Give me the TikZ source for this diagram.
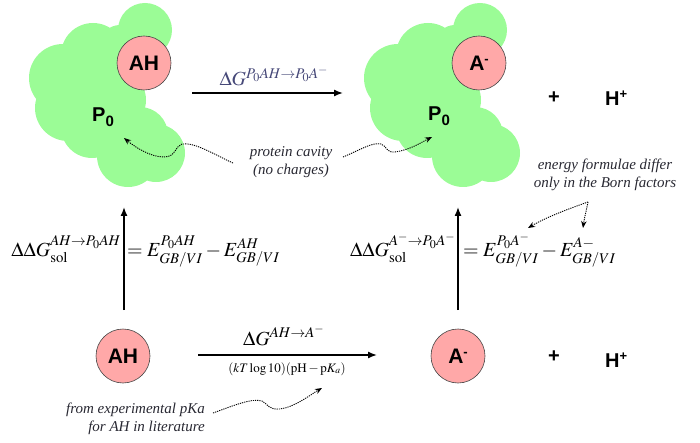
\documentclass[tikz,border=0pt]{standalone}
\usepackage{mathptmx}
\usepackage[no-math]{fontspec}
\setmainfont{Liberation Serif}
\newfontfamily\notefont{Liberation Serif}
\newfontfamily\sansfam{Liberation Sans}
\usetikzlibrary{arrows.meta}
\definecolor{blobgreen}{RGB}{155,252,150}
\definecolor{pinkfill}{RGB}{255,168,168}
\definecolor{circedge}{RGB}{70,70,70}
\definecolor{slate}{RGB}{70,72,120}
\definecolor{notecol}{RGB}{40,40,50}
\newcommand{\myblob}[1]{%
  \begin{scope}[shift={(#1,0)}]
    \foreach \cx/\cy/\r in {145/30/27, 93/55/32, 63/78/34, 68/108/33, 92/127/31,
        128/156/31, 156/153/29, 140/135/28, 115/100/31, 90/95/35, 110/70/30, 120/45/20}
      {\fill[blobgreen] (\cx,\cy) circle[radius=\r pt];}
  \end{scope}}
\begin{document}
\begin{tikzpicture}[x=1pt,y=-1pt,
  pinkc/.style={circle, fill=pinkfill, draw=circedge, line width=0.6pt,
     minimum size=54pt, inner sep=0pt, font=\sansfam\bfseries\fontsize{21}{21}\selectfont},
  chem/.style={font=\sansfam\bfseries\fontsize{20}{20}\selectfont, inner sep=0pt},
  mainarrow/.style={line width=1.4pt, -{Latex[length=9pt,width=7pt]}},
  dotarrow/.style={line width=0.9pt, dash pattern=on 1.2pt off 1pt, -{Stealth[length=7pt,width=5.5pt]}},
  note/.style={font=\notefont\itshape\fontsize{15}{18}\selectfont, text=notecol, inner sep=0pt},
  eq/.style={font=\fontsize{20}{24}\selectfont, inner sep=0pt},
  smalleq/.style={font=\fontsize{13}{15}\selectfont, inner sep=0pt}]
\useasboundingbox (0,0) rectangle (700,443);

% protein blobs
\myblob{0}
\myblob{335}

% top row
\node[pinkc] (ahtop) at (144,63) {AH};
\node[chem, anchor=base west] (p0left) at (92,122) {P\raisebox{-5pt}{\fontsize{15}{15}\selectfont 0}};
\node[pinkc] (atop) at (479,63) {A\raisebox{7pt}{\fontsize{13}{13}\selectfont -}};
\node[chem, anchor=base west] (p0right) at (428,121) {P\raisebox{-5pt}{\fontsize{15}{15}\selectfont 0}};
\node[chem] (plustop) at (554,98) {+};
\node[chem, anchor=base west] (htop) at (605,106) {H\raisebox{7pt}{\fontsize{13}{13}\selectfont +}};

% bottom row
\node[pinkc] (ahbot) at (123,356) {AH};
\node[pinkc] (abot) at (458,356) {A\raisebox{7pt}{\fontsize{13}{13}\selectfont -}};
\node[chem] (plusbot) at (554,357) {+};
\node[chem, anchor=base west] (hbot) at (605,367) {H\raisebox{7pt}{\fontsize{13}{13}\selectfont +}};

% horizontal arrows
\coordinate (ht1) at (192,93);
\coordinate (ht2) at (343,93);
\draw[mainarrow] (ht1) -- (ht2);
\node[eq, text=slate, anchor=base] (dgtop) at (274,86) {$\Delta G^{P_0AH\to P_0A^-}$};

\coordinate (hb1) at (198,355);
\coordinate (hb2) at (377,355);
\draw[mainarrow] (hb1) -- (hb2);
\node[eq, anchor=base] (dgbot) at (284,345) {$\Delta G^{AH\to A^-}$};
\node[smalleq, anchor=base] (kt) at (287,372) {$(kT\log 10)(\mathrm{pH}-\mathrm{p}K_a)$};

% vertical arrows
\coordinate (vl1) at (124,310);
\coordinate (vl2) at (124,207);
\draw[mainarrow] (vl1) -- (vl2);
\coordinate (vr1) at (458,310);
\coordinate (vr2) at (458,207);
\draw[mainarrow] (vr1) -- (vr2);

% equations
\node[eq, anchor=base east] (eqll) at (121,256) {$\Delta\Delta G^{AH\to P_0AH}_{\mathrm{sol}}$};
\node[eq, anchor=base west] (eqlr) at (127,256) {$=E^{P_0AH}_{GB/VI}-E^{AH}_{GB/VI}$};
\node[eq, anchor=base east] (eqrl) at (456,256) {$\Delta\Delta G^{A^-\to P_0A^-}_{\mathrm{sol}}$};
\node[eq, anchor=base west] (eqrr) at (463,256) {$=E^{P_0A^-}_{GB/VI}-E^{A-}_{GB/VI}$};

% notes
\node[note, align=center] (cavity) at (291,162) {protein cavity\\(no charges)};
\node[note, align=center] (born) at (605,175) {energy formulae differ\\only in the Born factors};
\node[note, align=right, anchor=east] (exp) at (205,419) {from experimental pKa\\for AH in literature};

% dotted pointers
\coordinate (c1) at (233,163);
\coordinate (cavL) at (124,138);
\draw[dotarrow] (c1)
   .. controls (215,155) and (195,142) .. (182,144)
   .. controls (175,146) and (176,157) .. (164,157)
   .. controls (150,157) and (135,147) .. (cavL);
\coordinate (c2) at (343,157);
\coordinate (cavR) at (432,137);
\draw[dotarrow] (c2)
   .. controls (360,150) and (372,142) .. (381,144)
   .. controls (387,146) and (386,153) .. (395,152)
   .. controls (410,150) and (422,142) .. (cavR);
\coordinate (bsplit) at (588,202);
\coordinate (bt1) at (528,228);
\coordinate (bt2) at (583,228);
\draw[dotarrow] (bsplit) .. controls (565,210) and (545,218) .. (bt1);
\draw[dotarrow] (bsplit) .. controls (586,212) and (584,220) .. (bt2);
\coordinate (e1) at (213,413);
\coordinate (expt) at (322,388);
\draw[dotarrow] (e1)
   .. controls (235,405) and (252,398) .. (262,401)
   .. controls (268,404) and (268,410) .. (280,409)
   .. controls (295,407) and (310,395) .. (expt);
\end{tikzpicture}
\end{document}
